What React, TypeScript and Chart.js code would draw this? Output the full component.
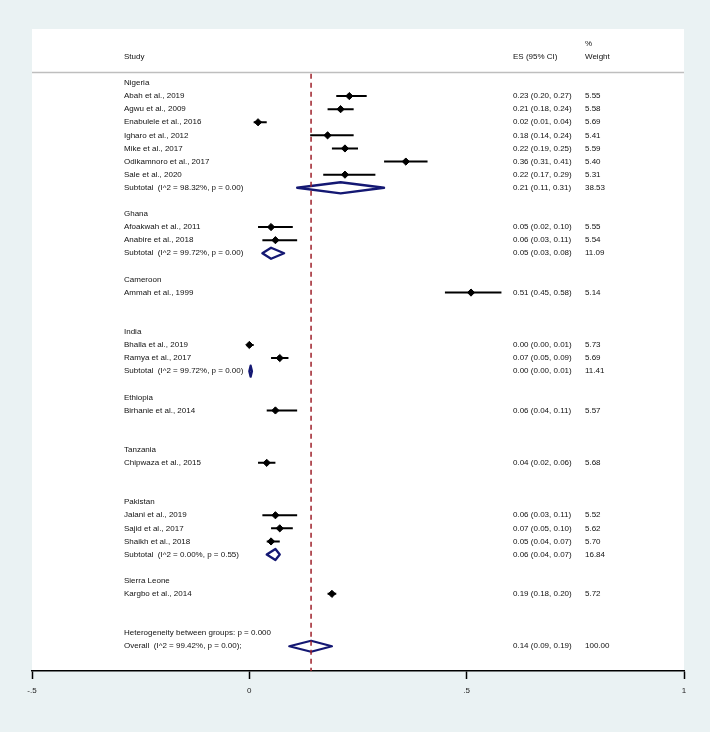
import React, { useEffect, useRef } from "react";
import { Chart, registerables } from "chart.js";

Chart.register(...registerables);

// ---------------- DATA ----------------
const groupNames = ["Nigeria", "Ghana", "Cameroon", "India", "Ethiopia", "Tanzania", "Pakistan", "Sierra Leone"];

const studyNames = [
  "Abah et al., 2019",
  "Agwu et al., 2009",
  "Enabulele et al., 2016",
  "Igharo et al., 2012",
  "Mike et al., 2017",
  "Odikamnoro et al., 2017",
  "Sale et al., 2020",
  "Afoakwah et al., 2011",
  "Anabire et al., 2018",
  "Ammah et al., 1999",
  "Bhalla et al., 2019",
  "Ramya et al., 2017",
  "Birhanie et al., 2014",
  "Chipwaza et al., 2015",
  "Jalani et al., 2019",
  "Sajid et al., 2017",
  "Shaikh et al., 2018",
  "Kargbo et al., 2014",
];
const studyGroup = [0, 0, 0, 0, 0, 0, 0, 1, 1, 2, 3, 3, 4, 5, 6, 6, 6, 7];
const studyES = [0.23, 0.21, 0.02, 0.18, 0.22, 0.36, 0.22, 0.05, 0.06, 0.51, 0.0, 0.07, 0.06, 0.04, 0.06, 0.07, 0.05, 0.19];
const studyLow = [0.2, 0.18, 0.01, 0.14, 0.19, 0.31, 0.17, 0.02, 0.03, 0.45, 0.0, 0.05, 0.04, 0.02, 0.03, 0.05, 0.04, 0.18];
const studyHigh = [0.27, 0.24, 0.04, 0.24, 0.25, 0.41, 0.29, 0.1, 0.11, 0.58, 0.01, 0.09, 0.11, 0.06, 0.11, 0.1, 0.07, 0.2];
const studyWeight = [5.55, 5.58, 5.69, 5.41, 5.59, 5.4, 5.31, 5.55, 5.54, 5.14, 5.73, 5.69, 5.57, 5.68, 5.52, 5.62, 5.7, 5.72];

const subtotalGroup = [0, 1, 3, 6];
const subtotalHet = ["I^2 = 98.32%, p = 0.00", "I^2 = 99.72%, p = 0.00", "I^2 = 99.72%, p = 0.00", "I^2 = 0.00%, p = 0.55"];
const subtotalES = [0.21, 0.05, 0.003, 0.06];
const subtotalLow = [0.11, 0.03, 0.0, 0.04];
const subtotalHigh = [0.31, 0.08, 0.006, 0.07];
const subtotalWeight = [38.53, 11.09, 11.41, 16.84];

const betweenGroupsP = "0.000";
const overallHet = "I^2 = 99.42%, p = 0.00";
const overallES = 0.142;
const overallLow = 0.092;
const overallHigh = 0.19;
const overallWeight = 100;

const xTicks = [-0.5, 0, 0.5, 1];
const xTickLabels = ["-.5", "0", ".5", "1"];

// ---------------- LAYOUT HELPERS ----------------
type Row = {
  kind: "group" | "study" | "subtotal" | "het" | "overall";
  text: string;
  row: number;
  es?: number;
  lo?: number;
  hi?: number;
  w?: number;
};

function buildRows(): Row[] {
  const rows: Row[] = [];
  let r = 0;
  groupNames.forEach((g, gi) => {
    rows.push({ kind: "group", text: g, row: r++ });
    studyNames.forEach((n, si) => {
      if (studyGroup[si] === gi) {
        rows.push({ kind: "study", text: n, row: r++, es: studyES[si], lo: studyLow[si], hi: studyHigh[si], w: studyWeight[si] });
      }
    });
    const k = subtotalGroup.indexOf(gi);
    if (k >= 0) {
      rows.push({
        kind: "subtotal",
        text: "Subtotal  (" + subtotalHet[k] + ")",
        row: r++,
        es: subtotalES[k],
        lo: subtotalLow[k],
        hi: subtotalHigh[k],
        w: subtotalWeight[k],
      });
    } else {
      r++;
    }
    r++;
  });
  rows.push({ kind: "het", text: "Heterogeneity between groups: p = " + betweenGroupsP, row: r++ });
  rows.push({
    kind: "overall",
    text: "Overall  (" + overallHet + ");",
    row: r++,
    es: overallES,
    lo: overallLow,
    hi: overallHigh,
    w: overallWeight,
  });
  return rows;
}

const Y_MIN = -4.12;
const Y_MAX = 44.89;
const DIAMOND_H = 0.42;
const BG = "rgb(234,242,243)";
const NAVY = "rgb(20,24,115)";
const MAROON = "rgb(158,32,42)";
const FONT = "8px 'Liberation Sans', Arial, Helvetica, sans-serif";

const COL_STUDY = 124;
const COL_ES = 513;
const COL_W = 585;

export default function App() {
  const ref = useRef<HTMLCanvasElement | null>(null);

  useEffect(() => {
    if (!ref.current) return;
    const rows = buildRows();

    const ciData: any[] = [];
    const pointData: any[] = [];
    const diamondData: any[] = [];
    rows.forEach((rw) => {
      if (rw.kind === "study") {
        ciData.push({ x: rw.lo, y: rw.row }, { x: rw.hi, y: rw.row }, { x: null, y: null });
        pointData.push({ x: rw.es, y: rw.row });
      } else if (rw.kind === "subtotal" || rw.kind === "overall") {
        diamondData.push(
          { x: rw.lo, y: rw.row },
          { x: rw.es, y: rw.row - DIAMOND_H },
          { x: rw.hi, y: rw.row },
          { x: rw.es, y: rw.row + DIAMOND_H },
          { x: rw.lo, y: rw.row },
          { x: rw.es, y: rw.row - DIAMOND_H },
          { x: null, y: null }
        );
      }
    });

    const bgPlugin = {
      id: "bgPlugin",
      beforeDraw(chart: any) {
        const { ctx, chartArea } = chart;
        ctx.save();
        ctx.fillStyle = BG;
        ctx.fillRect(0, 0, chart.width, chart.height);
        ctx.fillStyle = "#ffffff";
        ctx.fillRect(chartArea.left, chartArea.top, chartArea.right - chartArea.left, chartArea.bottom - chartArea.top);
        ctx.restore();
      },
    };

    const textPlugin = {
      id: "textPlugin",
      afterDatasetsDraw(chart: any) {
        const { ctx } = chart;
        const ys = chart.scales.y;
        ctx.save();
        ctx.font = FONT;
        ctx.fillStyle = "#111111";
        ctx.textBaseline = "middle";
        ctx.textAlign = "left";
        ctx.fillText("%", COL_W, ys.getPixelForValue(-3));
        ctx.fillText("Study", COL_STUDY, ys.getPixelForValue(-2));
        ctx.fillText("ES (95% CI)", COL_ES, ys.getPixelForValue(-2));
        ctx.fillText("Weight", COL_W, ys.getPixelForValue(-2));
        rows.forEach((rw) => {
          const py = ys.getPixelForValue(rw.row);
          ctx.fillText(rw.text, COL_STUDY, py);
          if (rw.es !== undefined) {
            const es = `${rw.es.toFixed(2)} (${(rw.lo as number).toFixed(2)}, ${(rw.hi as number).toFixed(2)})`;
            ctx.fillText(es, COL_ES, py);
            ctx.fillText((rw.w as number).toFixed(2), COL_W, py);
          }
        });
        ctx.restore();
      },
    };

    const chart = new Chart(ref.current, {
      type: "line",
      data: {
        datasets: [
          {
            label: "overall line",
            data: [
              { x: overallES, y: -0.7 },
              { x: overallES, y: Y_MAX },
            ],
            borderColor: MAROON,
            borderWidth: 1.5,
            borderDash: [5, 4],
            pointRadius: 0,
            fill: false,
          },
          {
            label: "points",
            data: pointData,
            showLine: false,
            pointStyle: "rectRot",
            pointRadius: 3.6,
            pointBackgroundColor: "#000",
            pointBorderColor: "#000",
            pointBorderWidth: 1,
          },
          {
            label: "ci",
            data: ciData,
            borderColor: "#000",
            borderWidth: 2,
            pointRadius: 0,
            spanGaps: false,
            fill: false,
          },
          {
            label: "diamonds",
            data: diamondData,
            borderColor: NAVY,
            borderWidth: 2.3,
            borderJoinStyle: "round",
            pointRadius: 0,
            spanGaps: false,
            fill: false,
          },
          {
            label: "separator",
            data: [
              { x: -0.5, y: -0.8 },
              { x: 1, y: -0.8 },
            ],
            borderColor: "rgb(190,190,190)",
            borderWidth: 1.5,
            pointRadius: 0,
            fill: false,
          },
        ] as any,
      },
      options: {
        animation: false,
        responsive: false,
        devicePixelRatio: 1,
        layout: { padding: { left: 32, right: 26, top: 29, bottom: 0 } },
        elements: { line: { tension: 0 } },
        plugins: { legend: { display: false }, tooltip: { enabled: false } },
        scales: {
          x: {
            type: "linear",
            position: "bottom",
            min: -0.5,
            max: 1,
            afterBuildTicks: (s: any) => {
              s.ticks = xTicks.map((v) => ({ value: v }));
            },
            afterFit: (s: any) => {
              s.height = 61;
            },
            ticks: {
              autoSkip: false,
              maxRotation: 0,
              padding: 7,
              color: "#222",
              font: { size: 8, family: "'Liberation Sans', Arial, sans-serif" },
              callback: (v: any) => {
                const i = xTicks.indexOf(Number(v));
                return i >= 0 ? xTickLabels[i] : "";
              },
            },
            grid: {
              drawOnChartArea: false,
              drawTicks: true,
              tickLength: 8,
              tickWidth: 1.5,
              tickColor: "#000",
            },
            border: { display: true, color: "#000", width: 1.5 },
          },
          y: {
            type: "linear",
            min: Y_MIN,
            max: Y_MAX,
            reverse: true,
            display: false,
          },
        },
      } as any,
      plugins: [bgPlugin, textPlugin],
    });

    return () => chart.destroy();
  }, []);

  return (
    <div style={{ position: "fixed", left: 0, top: 0, width: 710, height: 732 }}>
      <canvas ref={ref} width={710} height={732} style={{ display: "block", width: 710, height: 732 }} />
    </div>
  );
}
